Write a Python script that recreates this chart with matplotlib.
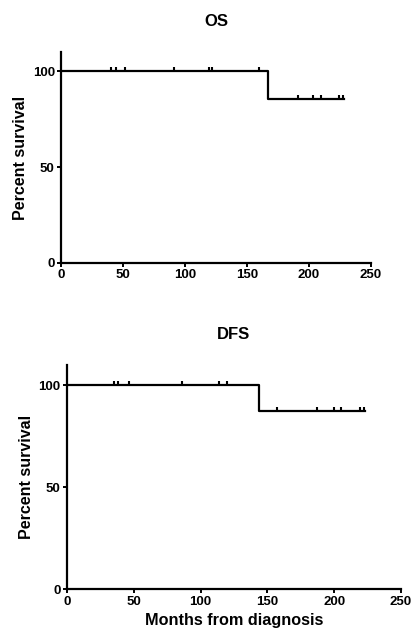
import numpy as np
import matplotlib
matplotlib.use("Agg")
import matplotlib.pyplot as plt

plt.rcParams["font.family"] = ["Liberation Sans", "DejaVu Sans"]
plt.rcParams["font.weight"] = "bold"

# ── Data ─────────────────────────────────────────────────────────────────────

os_step_x = [0, 167, 228]
os_step_y = [100, 85.7, 85.7]
os_censor_x = [40, 44, 52, 91, 119, 122, 160, 191, 203.5, 209.5, 224.5, 227.5]

dfs_step_x = [0, 144, 223]
dfs_step_y = [100, 87.5, 87.5]
dfs_censor_x = [35, 38.5, 46.5, 86, 114, 120, 157, 187.5, 200, 205, 219, 222.5]

x_ticks = [0, 50, 100, 150, 200, 250]
y_ticks = [0, 50, 100]


def surv_at(t, xs, ys):
    # survival level of the step curve at time t
    idx = np.searchsorted(xs, t, side="right") - 1
    return ys[idx]


def km_panel(ax, sx, sy, cx, title, xlabel=None):
    ax.step(sx, sy, where="post", color="black", linewidth=1.6)
    cy = [surv_at(t, sx, sy) for t in cx]
    ax.plot(cx, cy, linestyle="none", marker=2, markersize=3,
            markeredgewidth=1.5, color="black")
    ax.set_xlim(0, 250)
    ax.set_ylim(0, 110)
    ax.set_xticks(x_ticks)
    ax.set_yticks(y_ticks)
    for s in ("top", "right"):
        ax.spines[s].set_visible(False)
    for s in ("left", "bottom"):
        ax.spines[s].set_linewidth(1.6)
    ax.tick_params(width=1.4, length=3, labelsize=9.5, pad=1.5)
    for lab in ax.get_xticklabels() + ax.get_yticklabels():
        lab.set_fontweight("bold")
    ax.set_ylabel("Percent survival", fontsize=11.5, fontweight="bold", labelpad=3)
    ax.set_title(title, fontsize=12, fontweight="bold", pad=19)
    if xlabel:
        ax.set_xlabel(xlabel, fontsize=11.7, fontweight="bold", labelpad=4)


fig = plt.figure(figsize=(4.13, 6.32), dpi=100)
ax1 = fig.add_axes([0.1477, 0.5839, 0.7506, 0.3339])
ax2 = fig.add_axes([0.1622, 0.0676, 0.8087, 0.3549])

km_panel(ax1, os_step_x, os_step_y, os_censor_x, "OS")
km_panel(ax2, dfs_step_x, dfs_step_y, dfs_censor_x, "DFS", "Months from diagnosis")

fig.savefig("out.png", dpi=100)
